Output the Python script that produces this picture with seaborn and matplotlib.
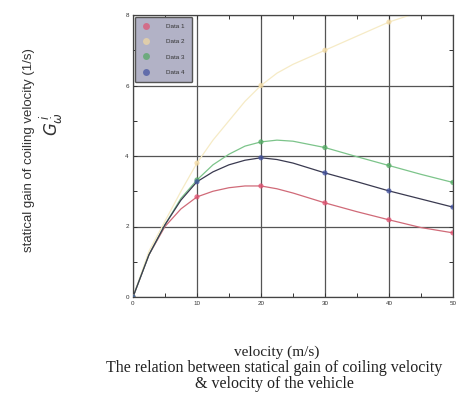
import matplotlib
matplotlib.use("Agg")
import matplotlib.pyplot as plt
import seaborn as sns
import pandas as pd
from matplotlib.lines import Line2D

sns.set_theme(style="white")
plt.rcParams['font.family'] = ['Liberation Sans', 'DejaVu Sans']

# curve readings
x_line = [0, 2.5, 5, 7.5, 10, 12.5, 15, 17.5, 20, 22.5, 25, 30, 35, 40, 45, 50]
series1 = [0, 1.2, 2.0, 2.5, 2.84, 3.0, 3.1, 3.15, 3.15, 3.07, 2.95, 2.67, 2.42, 2.19, 1.97, 1.82]
series2 = [0, 1.3, 2.15, 3.0, 3.8, 4.45, 5.0, 5.55, 6.0, 6.35, 6.6, 7.0, 7.4, 7.8, 8.1, 8.4]
series3 = [0, 1.2, 2.05, 2.8, 3.32, 3.75, 4.05, 4.28, 4.4, 4.45, 4.42, 4.24, 3.98, 3.73, 3.48, 3.25]
series4 = [0, 1.2, 2.05, 2.75, 3.27, 3.55, 3.75, 3.88, 3.95, 3.9, 3.8, 3.52, 3.27, 3.01, 2.78, 2.55]
names = ["Data 1", "Data 2", "Data 3", "Data 4"]
line_colors = ["#d06a78", "#f6ebc6", "#7cc48a", "#3a3a50"]
marker_colors = ["#e05070", "#f3d9a0", "#50a860", "#4050a0"]
marker_x = [0, 10, 20, 30, 40, 50]

x_ticks = [0, 10, 20, 30, 40, 50]
y_ticks = [0, 2, 4, 6, 8]

rows = []
for n, s in zip(names, [series1, series2, series3, series4]):
    for xv, yv in zip(x_line, s):
        rows.append({"x": xv, "y": yv, "series": n})
df = pd.DataFrame(rows)
dm = df[df["x"].isin(marker_x)]

fig = plt.figure(figsize=(4.65, 4.0), dpi=100)
ax = fig.add_axes([0.286, 0.2575, 0.688, 0.705])

pal = dict(zip(names, line_colors))
sns.lineplot(data=df, x="x", y="y", hue="series", palette=pal, ax=ax,
             linewidth=0.9, legend=False, sort=True)
sns.scatterplot(data=dm, x="x", y="y", hue="series",
                palette=dict(zip(names, marker_colors)), ax=ax,
                marker="o", s=14, linewidth=0, alpha=0.75, legend=False,
                zorder=5)

ax.set_xlim(0, 50)
ax.set_ylim(0, 8)
ax.set_xticks(x_ticks)
ax.set_yticks(y_ticks)
ax.set_xticks([5, 15, 25, 35, 45], minor=True)
ax.set_yticks([1, 3, 5, 7], minor=True)
ax.tick_params(which="both", direction="in", length=3, width=0.7,
               colors="#333333", labelsize=4.5, pad=3,
               bottom=True, left=True, top=True, right=True)
ax.grid(True, which="major", color="#555555", linewidth=0.9)
for sp in ax.spines.values():
    sp.set_color("#444444")
    sp.set_linewidth(0.9)
ax.set_xlabel("")
ax.set_ylabel("")

handles = [Line2D([], [], linestyle="none", marker="o", markersize=5,
                  markerfacecolor=c, markeredgecolor="none", alpha=0.7)
           for c in marker_colors]
leg = ax.legend(handles, names, loc="upper left", fontsize=4.5,
                frameon=True, fancybox=True, borderpad=1.1,
                labelspacing=1.6, handletextpad=2.5, borderaxespad=0.25,
                handlelength=1.5)
leg.get_frame().set_facecolor("#b2b2c6")
leg.get_frame().set_edgecolor("#555555")
leg.get_frame().set_alpha(1)
for t in leg.get_texts():
    t.set_color("#333333")

serif = ['Liberation Serif', 'DejaVu Serif']
fig.text(0.062, 0.625, "statical gain of coiling velocity (1/s)", rotation=90,
         ha="center", va="center", fontsize=9.5, color="#333333")
fig.text(0.11, 0.69, r"$G^{\,i}_{\dot{\omega}}$", rotation=90,
         ha="center", va="center", fontsize=12, color="#333333")
fig.text(0.594, 0.12, "velocity (m/s)", ha="center", va="center",
         fontsize=11, family=serif, color="#222222")
fig.text(0.59, 0.08, "The relation between statical gain of coiling velocity",
         ha="center", va="center", fontsize=11.5, family=serif, color="#222222")
fig.text(0.59, 0.04, "& velocity of the vehicle",
         ha="center", va="center", fontsize=11.5, family=serif, color="#222222")

fig.savefig("out.png", dpi=100)
